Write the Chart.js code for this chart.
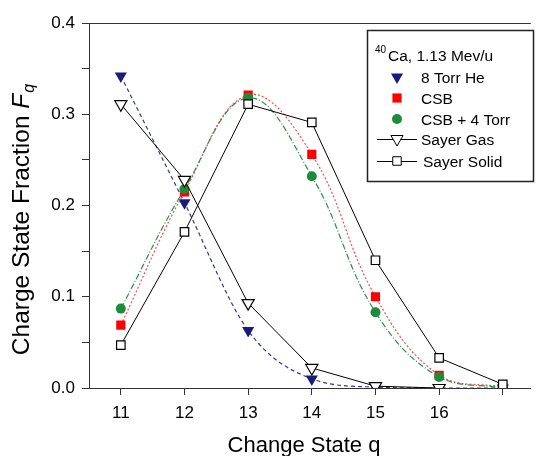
<!DOCTYPE html>
<html>
<head>
<meta charset="utf-8">
<script src="https://cdn.jsdelivr.net/npm/chart.js@4"></script>
<style>
  html, body { margin: 0; padding: 0; background: #fff; }
  #wrap { width: 539px; height: 456px; }
</style>
</head>
<body>
<div id="wrap"><canvas id="chart" width="539" height="456"></canvas></div>
<script>
// charge states and fractions
const charges = [11, 12, 13, 14, 15, 16, 17];
const torrHe = [0.342, 0.203, 0.063, 0.010, 0.001, 0.000, 0.000];
const csb = [0.069, 0.215, 0.321, 0.256, 0.100, 0.014, 0.001];
const csbTorr = [0.087, 0.218, 0.318, 0.232, 0.083, 0.012, 0.000];
const sayerGas = [0.311, 0.228, 0.093, 0.022, 0.002, 0.000, null];
const sayerSolid = [0.047, 0.171, 0.311, 0.291, 0.140, 0.033, 0.004];

const xTicks = [11, 12, 13, 14, 15, 16, 17];
const xLabels = ['11', '12', '13', '14', '15', '16', ''];
const yTicks = [0, 0.05, 0.1, 0.15, 0.2, 0.25, 0.3, 0.35, 0.4];
const yLabels = ['0.0', '', '0.1', '', '0.2', '', '0.3', '', '0.4'];

const FONT = "'Liberation Sans', Arial, sans-serif";
const AXIS = '#333';

function pts(arr) {
    return charges.map((q, i) => ({ x: q, y: arr[i] }));
}

// legend box, axis titles and the top frame line
const decor = {
    id: 'decor',
    afterDatasetsDraw(chart) {
        const ctx = chart.ctx;
        const area = chart.chartArea;
        ctx.save();

        // top frame line
        ctx.strokeStyle = AXIS;
        ctx.lineWidth = 1;
        ctx.beginPath();
        ctx.moveTo(82, area.top + 0.5);
        ctx.lineTo(area.right, area.top + 0.5);
        ctx.stroke();

        // legend
        const bx = 367, by = 30, bw = 166, bh = 151;
        ctx.fillStyle = '#fff';
        ctx.fillRect(bx, by, bw, bh);
        ctx.strokeStyle = '#222';
        ctx.lineWidth = 1.5;
        ctx.strokeRect(bx + 0.5, by + 0.5, bw, bh);

        ctx.fillStyle = '#000';
        ctx.textBaseline = 'alphabetic';
        ctx.textAlign = 'left';
        ctx.font = '10px ' + FONT;
        ctx.fillText('40', 375, 53);
        ctx.font = '15.5px ' + FONT;
        ctx.fillText('Ca, 1.13 Mev/u', 388, 61);

        const rows = [
            { ds: 0, y: 77, tx: 421, line: false },
            { ds: 1, y: 98, tx: 421, line: false },
            { ds: 2, y: 119, tx: 421, line: false },
            { ds: 3, y: 139, tx: 421, line: true },
            { ds: 4, y: 161, tx: 423, line: true }
        ];
        rows.forEach(r => {
            const d = chart.data.datasets[r.ds];
            if (r.line) {
                ctx.strokeStyle = '#000';
                ctx.lineWidth = 1;
                ctx.setLineDash([]);
                ctx.beginPath();
                ctx.moveTo(377, r.y + 0.5);
                ctx.lineTo(417, r.y + 0.5);
                ctx.stroke();
            }
            ctx.fillStyle = d.pointBackgroundColor;
            ctx.strokeStyle = d.pointBorderColor;
            Chart.helpers.drawPoint(ctx, {
                pointStyle: d.pointStyle,
                rotation: d.pointRotation || 0,
                radius: d.pointRadius,
                borderWidth: d.pointBorderWidth
            }, 397, r.y);
            ctx.fillStyle = '#000';
            ctx.font = '15.5px ' + FONT;
            ctx.fillText(d.label, r.tx, r.y + 6);
        });

        // x axis title
        ctx.font = '22px ' + FONT;
        ctx.textAlign = 'center';
        ctx.fillText('Change State q', 304, 452);

        // y axis title with italic F and subscript q
        ctx.translate(29, 220);
        ctx.rotate(-Math.PI / 2);
        const main = 'Charge State Fraction ';
        ctx.font = '24.5px ' + FONT;
        const w1 = ctx.measureText(main).width;
        ctx.font = 'italic 24.5px ' + FONT;
        const w2 = ctx.measureText('F').width;
        ctx.font = 'italic 16px ' + FONT;
        const w3 = ctx.measureText('q').width;
        let x0 = -(w1 + w2 + w3) / 2;
        ctx.textAlign = 'left';
        ctx.font = '24.5px ' + FONT;
        ctx.fillText(main, x0, 0);
        ctx.font = 'italic 24.5px ' + FONT;
        ctx.fillText('F', x0 + w1, 0);
        ctx.font = 'italic 16px ' + FONT;
        ctx.fillText('q', x0 + w1 + w2 + 1, 5);

        ctx.restore();
    }
};

new Chart(document.getElementById('chart'), {
    type: 'line',
    data: {
        datasets: [
            {
                label: '8 Torr He',
                data: pts(torrHe),
                borderColor: '#3535a0',
                borderWidth: 1.2,
                borderDash: [4, 3],
                cubicInterpolationMode: 'monotone',
                pointStyle: 'triangle',
                pointRotation: 180,
                pointRadius: 7,
                pointBorderWidth: 0,
                pointBackgroundColor: '#1b1b7e',
                pointBorderColor: '#1b1b7e',
                order: 5
            },
            {
                label: 'CSB',
                data: pts(csb),
                borderColor: '#ff4a4a',
                borderWidth: 1.2,
                borderDash: [2, 2],
                tension: 0.4,
                pointStyle: 'rect',
                pointRadius: 6.5,
                pointBorderWidth: 0,
                pointBackgroundColor: '#ff0000',
                pointBorderColor: '#ff0000',
                order: 4
            },
            {
                label: 'CSB + 4 Torr',
                data: pts(csbTorr),
                borderColor: '#2a9148',
                borderWidth: 1.2,
                borderDash: [6, 2, 1, 2],
                tension: 0.4,
                pointStyle: 'circle',
                pointRadius: 5,
                pointBorderWidth: 0,
                pointBackgroundColor: '#1e8a3c',
                pointBorderColor: '#1e8a3c',
                order: 3
            },
            {
                label: 'Sayer Gas',
                data: pts(sayerGas),
                borderColor: '#000',
                borderWidth: 1,
                tension: 0,
                pointStyle: 'triangle',
                pointRotation: 180,
                pointRadius: 7,
                pointBorderWidth: 1.2,
                pointBackgroundColor: '#fff',
                pointBorderColor: '#000',
                order: 2
            },
            {
                label: 'Sayer Solid',
                data: pts(sayerSolid),
                borderColor: '#000',
                borderWidth: 1,
                tension: 0,
                pointStyle: 'rect',
                pointRadius: 6,
                pointBorderWidth: 1.2,
                pointBackgroundColor: '#fff',
                pointBorderColor: '#000',
                order: 1
            }
        ]
    },
    options: {
        responsive: false,
        animation: false,
        layout: { padding: { top: 23, right: 0, left: 0, bottom: 0 } },
        plugins: {
            legend: { display: false },
            tooltip: { enabled: false }
        },
        scales: {
            x: {
                type: 'linear',
                min: 10.5,
                max: 17.44,
                afterFit: s => { s.height = 68; },
                afterBuildTicks: s => { s.ticks = xTicks.map(v => ({ value: v })); },
                grid: { drawOnChartArea: false, tickLength: 7, color: AXIS },
                border: { color: AXIS, width: 1 },
                ticks: {
                    color: '#000',
                    padding: 8,
                    maxRotation: 0,
                    autoSkip: false,
                    font: { size: 17, family: FONT },
                    callback: (v, i) => xLabels[i]
                }
            },
            y: {
                min: 0,
                max: 0.4,
                afterFit: s => { s.width = 89; },
                afterBuildTicks: s => { s.ticks = yTicks.map(v => ({ value: v })); },
                grid: { drawOnChartArea: false, tickLength: 7, color: AXIS },
                border: { color: AXIS, width: 1 },
                ticks: {
                    color: '#000',
                    padding: 7,
                    autoSkip: false,
                    font: { size: 17, family: FONT },
                    callback: (v, i) => yLabels[i]
                }
            }
        }
    },
    plugins: [decor]
});
</script>
</body>
</html>
